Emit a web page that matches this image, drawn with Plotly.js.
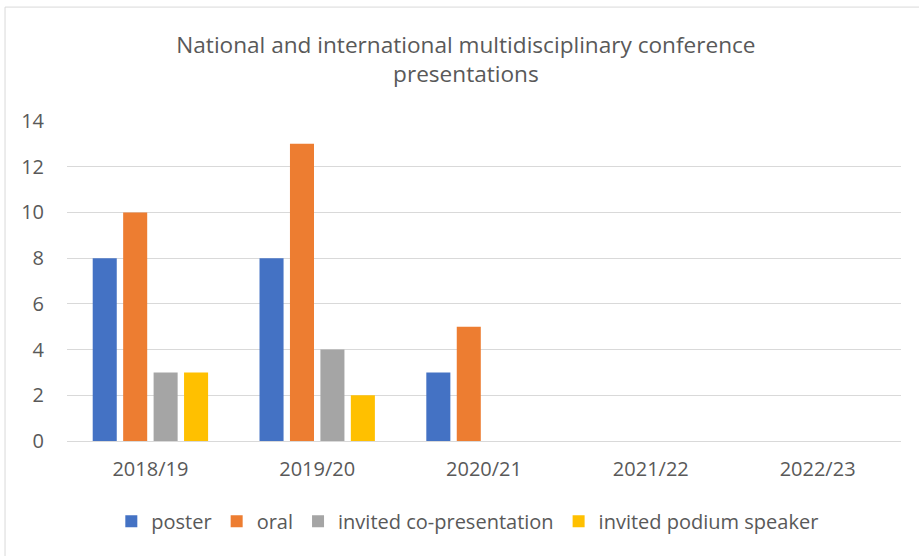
<!DOCTYPE html>
<html><head><meta charset="utf-8">
<script src="https://cdn.plot.ly/plotly-3.0.1.min.js"></script>
<style>html,body{margin:0;padding:0;background:#fff;}#chart{width:919px;height:556px;}</style>
</head><body><div id="chart"></div>
<script>
const categories = ["2018/19", "2019/20", "2020/21", "2021/22", "2022/23"];
const poster = [8, 8, 3, 0, 0];
const oral = [10, 13, 5, 0, 0];
const invitedCoPresentation = [3, 4, 0, 0, 0];
const invitedPodiumSpeaker = [3, 2, 0, 0, 0];
const seriesNames = ["poster", "oral", "invited co-presentation", "invited podium speaker"];
const colors = ["#4472C4", "#ED7D31", "#A5A5A5", "#FFC000"];
const yTicks = [0, 2, 4, 6, 8, 10, 12, 14];

const vals = [poster, oral, invitedCoPresentation, invitedPodiumSpeaker];
const traces = vals.map((v, i) => ({
  type: "bar", x: categories, y: v, name: seriesNames[i],
  marker: {color: colors[i]}, hoverinfo: "x+y+name"
}));
const fontFam = "'Open Sans', sans-serif";
const layout = {
  width: 919, height: 556,
  margin: {l: 67, r: 18, t: 121, b: 115},
  paper_bgcolor: "#fff", plot_bgcolor: "#fff",
  font: {family: fontFam, color: "#595959", size: 20},
  title: {text: "National and international multidisciplinary conference<br>presentations",
    x: 0.507, xref: "container", xanchor: "center", y: 0.905, yref: "container", yanchor: "middle",
    font: {size: 22.6, color: "#595959", family: fontFam}},
  barmode: "group", bargap: 0.27, bargroupgap: 0.21,
  xaxis: {showgrid: false, showline: true, linecolor: "#d9d9d9", linewidth: 1, ticks: "",
    ticklabelstandoff: 10, tickfont: {size: 20, color: "#595959"}, fixedrange: true},
  yaxis: {range: [0, 14], tickvals: yTicks, showgrid: true, gridcolor: "#d9d9d9", gridwidth: 1,
    zeroline: false, showline: false, ticks: "", ticklabelstandoff: 22,
    tickfont: {size: 20, color: "#595959"}, fixedrange: true},
  showlegend: true,
  legend: {orientation: "h", x: 0.48, xanchor: "center", xref: "paper", y: -0.19, yanchor: "top",
    font: {size: 20, color: "#595959"}, itemwidth: 30, traceorder: "normal"},
  shapes: [{type: "rect", xref: "paper", yref: "paper", x0: -0.0743, x1: 1.2, y0: -0.6, y1: 1.356,
    line: {color: "#d9d9d9", width: 1}, fillcolor: "rgba(0,0,0,0)", layer: "below"}]
};
Plotly.newPlot("chart", traces, layout, {displayModeBar: false, staticPlot: true});
</script></body></html>
